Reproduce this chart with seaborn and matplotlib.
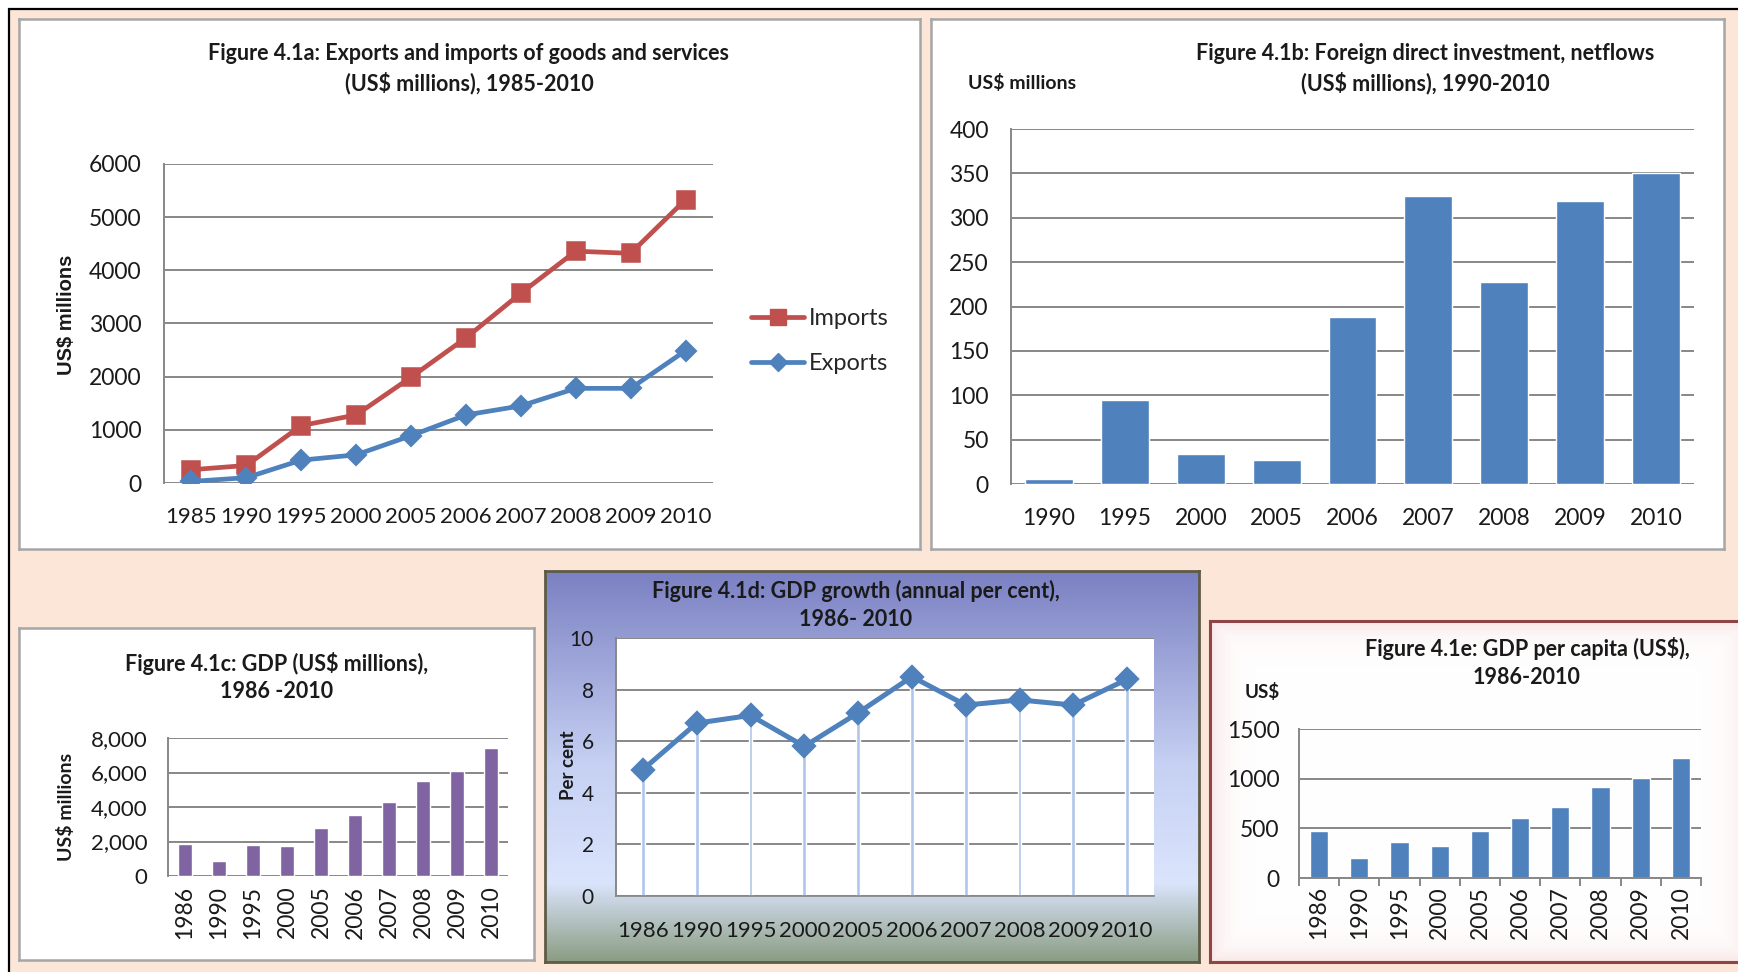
import numpy as np
import pandas as pd
import seaborn as sns
import matplotlib.pyplot as plt
from matplotlib.patches import Rectangle
from matplotlib.lines import Line2D
from matplotlib.colors import LinearSegmentedColormap

# Datos
years_a = ['1985', '1990', '1995', '2000', '2005', '2006', '2007', '2008', '2009', '2010']
imports = [250, 330, 1080, 1280, 1990, 2730, 3570, 4360, 4320, 5330]
exports = [30, 100, 430, 530, 890, 1280, 1450, 1780, 1780, 2490]

years_b = ['1990', '1995', '2000', '2005', '2006', '2007', '2008', '2009', '2010']
fdi = [6, 95, 34, 27, 188, 324, 228, 319, 350]

years_c = ['1986', '1990', '1995', '2000', '2005', '2006', '2007', '2008', '2009', '2010']
gdp = [1830, 870, 1790, 1750, 2760, 3510, 4280, 5510, 6090, 7440]
growth = [4.9, 6.7, 7.0, 5.8, 7.1, 8.5, 7.4, 7.6, 7.4, 8.4]
gdp_pc = [476, 204, 360, 323, 476, 599, 718, 912, 1007, 1211]

RED = '#C0504D'
BLUE = '#4F81BD'
PURPLE = '#8064A2'
DROP = '#AFC6E9'
GRID = '#878787'
PEACH = '#FCE6D8'
TXT = '#1A1A1A'
TSIZE = 15.5

sns.set_theme(style='white')
plt.rcParams['font.family'] = ['Lato', 'DejaVu Sans']

W, H = 1738, 972
fig = plt.figure(figsize=(W / 100, H / 100), dpi=100, facecolor='white')


def rect(x0, y0, x1, y1):
    return [x0 / W, 1 - y1 / H, (x1 - x0) / W, (y1 - y0) / H]


def ftext(x, y, s, **kw):
    kw.setdefault('ha', 'center')
    kw.setdefault('va', 'center')
    kw.setdefault('color', TXT)
    fig.text(x / W, 1 - y / H, s, **kw)


def box(r, edge='#A6A6A6', lw=1.8, face='white'):
    bx = fig.add_axes(r, facecolor=face)
    bx.set_xticks([])
    bx.set_yticks([])
    for s in bx.spines.values():
        s.set_color(edge)
        s.set_linewidth(lw)
    return bx


def style(ax, ymax, step, size=15, xsize=None, ypad=17, xpad=12, fmt=None):
    ax.set_ylim(0, ymax)
    ax.set_yticks(np.arange(0, ymax + 1, step))
    if fmt:
        ax.set_yticklabels([fmt.format(v) for v in np.arange(0, ymax + 1, step)])
    ax.yaxis.grid(True, color=GRID, lw=1.4)
    ax.xaxis.grid(False)
    ax.set_axisbelow(True)
    for s in ['top', 'right', 'bottom']:
        ax.spines[s].set_visible(False)
    ax.spines['left'].set_color(GRID)
    ax.spines['left'].set_linewidth(1.4)
    ax.tick_params(axis='y', length=0, pad=ypad, labelsize=size, colors=TXT)
    ax.tick_params(axis='x', length=0, pad=xpad, labelsize=xsize or size, colors=TXT)
    ax.set_xlabel('')
    ax.set_ylabel('')


# fondo general
fig.patches.append(Rectangle((9 / W, -0.05), 1.2, 1 - 9 / H + 0.05, transform=fig.transFigure,
                             facecolor=PEACH, edgecolor='black', lw=1.6, zorder=-1))

# Figura 4.1a
box(rect(19, 19, 920, 549))
ax = fig.add_axes(rect(164, 164, 713, 483))
sns.pointplot(x=years_a, y=imports, color=RED, marker='s', markersize=11, linewidth=3.4,
              errorbar=None, ax=ax)
sns.pointplot(x=years_a, y=exports, color=BLUE, marker='D', markersize=9, linewidth=3.4,
              errorbar=None, ax=ax)
ax.set_xlim(-0.5, len(years_a) - 0.5)
style(ax, 6000, 1000, size=16.5, xsize=16, ypad=16, xpad=17)
ftext(469, 54, 'Figure 4.1a: Exports and imports of goods and services', fontsize=TSIZE, fontweight='bold')
ftext(469, 83, '(US$ millions), 1985-2010', fontsize=TSIZE, fontweight='bold')
ftext(66, 315, 'US$ millions', rotation=90, fontsize=14.5, fontweight='bold', family='Liberation Sans')
handles = [Line2D([], [], color=RED, marker='s', markersize=11, lw=3.4),
           Line2D([], [], color=BLUE, marker='D', markersize=9, lw=3.4)]
fig.legend(handles, ['Imports', 'Exports'], loc='center left', bbox_to_anchor=(751 / W, 1 - 341 / H),
           frameon=False, fontsize=17, handlelength=2.25, handletextpad=0.2, labelspacing=1.0,
           borderpad=0, borderaxespad=0)

# Figura 4.1b
box(rect(931, 19, 1724, 549))
ax = fig.add_axes(rect(1011, 129, 1694, 484))
sns.barplot(x=years_b, y=fdi, color=BLUE, width=0.63, saturation=1, ax=ax)
style(ax, 400, 50, size=16.5, ypad=16, xpad=17)
ftext(1425, 54, 'Figure 4.1b: Foreign direct investment, netflows', fontsize=TSIZE, fontweight='bold')
ftext(1425, 83, '(US$ millions), 1990-2010', fontsize=TSIZE, fontweight='bold')
ftext(1022, 83, 'US$ millions', fontsize=14, fontweight='bold')

# Figura 4.1c
box(rect(19, 628, 534, 960))
ax = fig.add_axes(rect(168, 738, 508, 876))
sns.barplot(x=years_c, y=gdp, color=PURPLE, width=0.4, saturation=1, ax=ax)
style(ax, 8000, 2000, size=16, xsize=16.5, ypad=15, xpad=7, fmt='{:,.0f}')
ax.tick_params(axis='x', labelrotation=90)
ftext(277, 663, 'Figure 4.1c: GDP (US$ millions),', fontsize=TSIZE, fontweight='bold')
ftext(277, 692, '1986 -2010', fontsize=TSIZE, fontweight='bold')
ftext(66, 807, 'US$ millions', rotation=90, fontsize=14, fontweight='bold')

# Figura 4.1d
bg = box(rect(545, 571, 1199, 962), edge='#5E5A45', lw=2)
grad = LinearSegmentedColormap.from_list(
    'g', [(0, '#7A80C2'), (0.5, '#C6D1F3'), (0.8, '#DAE4FC'), (1, '#8A9C82')])
bg.imshow(np.linspace(0, 1, 256)[:, None], cmap=grad, aspect='auto', extent=(0, 1, 0, 1))
bg.set_xlim(0, 1)
bg.set_ylim(0, 1)
ax = fig.add_axes(rect(616, 638, 1154, 896), facecolor='white')
sns.barplot(x=years_c, y=growth, color=DROP, width=0.07, saturation=1, ax=ax)
sns.pointplot(x=years_c, y=growth, color=BLUE, marker='D', markersize=10, linewidth=3.6,
              errorbar=None, ax=ax)
ax.set_xlim(-0.5, len(years_c) - 0.5)
style(ax, 10, 2, size=15, xsize=16, ypad=9, xpad=18)
ax.tick_params(axis='y', length=7, width=1.4, color=GRID, direction='out')
ax.spines['bottom'].set_visible(True)
ax.spines['bottom'].set_color(GRID)
ftext(856, 591, 'Figure 4.1d: GDP growth (annual per cent),', fontsize=TSIZE, fontweight='bold')
ftext(856, 620, '1986- 2010', fontsize=TSIZE, fontweight='bold')
ftext(569, 765, 'Per cent', rotation=90, fontsize=13.5, fontweight='bold')

# Figura 4.1e
x0, y0, x1, y1 = 1210, 621, 1748, 962
bx = box(rect(x0, y0, x1, y1), edge='#8E4545', lw=2.2)
hh, ww = y1 - y0, x1 - x0
yy, xx = np.mgrid[0:hh, 0:ww]
d = np.minimum.reduce([xx, yy, hh - 1 - yy, ww - 1 - xx]).astype(float)
a = 0.35 * np.exp(-d / 14)
pink = np.array([0.93, 0.72, 0.72])
img = (1 - a)[..., None] * np.ones(3) + a[..., None] * pink
bx.imshow(img, aspect='auto', extent=(0, 1, 0, 1))
bx.set_xlim(0, 1)
bx.set_ylim(0, 1)
ax = fig.add_axes(rect(1299, 729, 1701, 878))
ax.patch.set_alpha(0)
sns.barplot(x=years_c, y=gdp_pc, color=BLUE, width=0.45, saturation=1, ax=ax)
style(ax, 1500, 500, size=16.5, xsize=16.5, ypad=9, xpad=6)
ax.set_xlim(-0.5, len(years_c) - 0.5)
ax.tick_params(axis='x', labelrotation=90)
ax.tick_params(axis='y', length=5, width=1.4, color=GRID, direction='out')
ax.set_xticks(np.arange(-0.5, len(years_c), 1), minor=True)
ax.tick_params(axis='x', which='minor', length=6, width=1.4, color=GRID, direction='out', bottom=True)
ax.spines['bottom'].set_visible(True)
ax.spines['bottom'].set_color(GRID)
ax.spines['bottom'].set_linewidth(1.4)
ftext(1527, 648, 'Figure 4.1e: GDP per capita (US$),', fontsize=TSIZE, fontweight='bold')
ftext(1527, 677, '1986-2010', fontsize=TSIZE, fontweight='bold')
ftext(1262, 692, 'US$', fontsize=13.5, fontweight='bold')

fig.savefig('out.png', dpi=100, facecolor=fig.get_facecolor())
